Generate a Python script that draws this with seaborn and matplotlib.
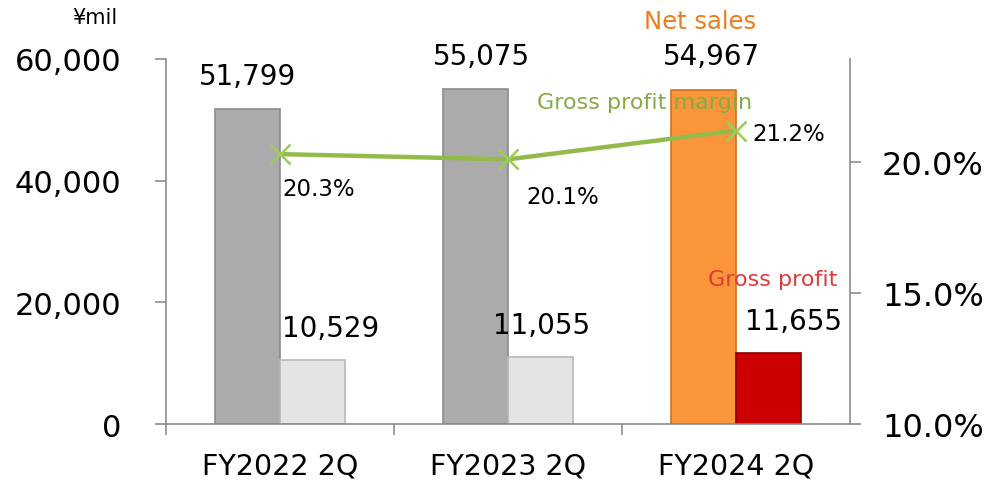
import matplotlib
matplotlib.use("Agg")
import matplotlib.pyplot as plt
import seaborn as sns
import pandas as pd

categories = ["FY2022 2Q", "FY2023 2Q", "FY2024 2Q"]
net_sales = [51799, 55075, 54967]
gross_profit = [10529, 11055, 11655]
gross_margin = [20.3, 20.1, 21.2]

sns.set_theme(style="white")
plt.rcParams["font.family"] = ["DejaVu Sans"]
plt.rcParams["text.color"] = "black"
plt.rcParams["xtick.labelcolor"] = "black"
plt.rcParams["ytick.labelcolor"] = "black"

df = pd.DataFrame({
    "category": categories * 2,
    "series": ["Net sales"] * 3 + ["Gross profit"] * 3,
    "value": net_sales + gross_profit,
})

fig = plt.figure(figsize=(9.89, 4.81), dpi=100)
ax = fig.add_axes([0.1678, 0.1164, 0.8595 - 0.1678, 0.8753 - 0.1164])

sns.barplot(data=df, x="category", y="value", hue="series", order=categories,
            hue_order=["Net sales", "Gross profit"], width=0.57, dodge=True,
            legend=False, ax=ax, errorbar=None)

face = ["#ababab", "#ababab", "#fa953a", "#e4e4e4", "#e4e4e4", "#cc0000"]
edge = ["#8c8c8c", "#8c8c8c", "#c8741f", "#b8b8b8", "#b8b8b8", "#8a0000"]
bars = [p for p in ax.patches]
for p, fc, ec in zip(bars, face, edge):
    p.set_facecolor(fc)
    p.set_edgecolor(ec)
    p.set_linewidth(1.2)

ax.set_xlim(-0.5, 2.5)
ax.set_ylim(0, 60000)
ax.set_yticks([0, 20000, 40000, 60000])
ax.set_yticklabels([f"{v:,}" for v in [0, 20000, 40000, 60000]], fontsize=22)
ax.set_xticks([-0.5, 0.5, 1.5], minor=True)
ax.set_xticks([0, 1, 2])
ax.set_xticklabels(categories, fontsize=20.5)
ax.tick_params(axis="x", which="major", bottom=True, length=0, pad=20)
ax.tick_params(axis="x", which="minor", bottom=True, length=8, color="#8c8c8c",
               width=1.2, direction="out")
ax.tick_params(axis="y", left=True, length=8, color="#8c8c8c", width=1.2,
               direction="out", pad=24)
ax.set_xlabel("")
ax.set_ylabel("")
for s in ["left", "bottom"]:
    ax.spines[s].set_color("#8c8c8c")
    ax.spines[s].set_linewidth(1.2)
ax.spines["top"].set_visible(False)
ax.spines["right"].set_visible(False)

ax2 = ax.twinx()
sns.lineplot(x=[0, 1, 2], y=gross_margin, ax=ax2, color="#92bb4a", linewidth=3.2,
             marker="x", markersize=15, markeredgewidth=1.8, markeredgecolor="#9ccc5a")
ax2.set_xlim(-0.5, 2.5)
ax2.set_ylim(10, 23.93)
ax2.set_yticks([10, 15, 20])
ax2.set_yticklabels(["10.0%", "15.0%", "20.0%"], fontsize=23)
ax2.tick_params(axis="y", right=True, length=8, color="#8c8c8c", width=1.2,
                direction="out", pad=15)
for s in ["left", "top", "bottom"]:
    ax2.spines[s].set_visible(False)
ax2.spines["right"].set_color("#8c8c8c")
ax2.spines["right"].set_linewidth(1.2)

# value labels
ns_bars = bars[:3]
gp_bars = bars[3:]
ns_dx = [0, 4, 6]
gp_dx = [13, 1, 18]
for p, v, dx in zip(ns_bars, net_sales, ns_dx):
    ax.annotate(f"{v:,}", (p.get_x() + p.get_width() / 2, v), xytext=(dx, 24),
                textcoords="offset points", ha="center", va="center", fontsize=20)
for p, v, dx in zip(gp_bars, gross_profit, gp_dx):
    ax.annotate(f"{v:,}", (p.get_x() + p.get_width() / 2, v), xytext=(dx, 23),
                textcoords="offset points", ha="center", va="center", fontsize=20)

pct_off = [(2, -25), (13, -27), (12, -2)]
for i, (m, off) in enumerate(zip(gross_margin, pct_off)):
    ax2.annotate(f"{m:.1f}%", (i, m), xytext=off, textcoords="offset points",
                 ha="left", va="center", fontsize=16.5)

# series labels
fig.text(700 / 989, 1 - 22 / 481, "Net sales", color="#ee7c1c", fontsize=17.5,
         ha="center", va="center")
fig.text(645 / 989, 1 - 103 / 481, "Gross profit margin", color="#86ab45", fontsize=16,
         ha="center", va="center")
fig.text(773 / 989, 1 - 280 / 481, "Gross profit", color="#e03a3a", fontsize=16,
         ha="center", va="center")
fig.text(95 / 989, 1 - 18 / 481, "¥mil", color="black", fontsize=15,
         ha="center", va="center")

fig.savefig("out.png", dpi=100)
